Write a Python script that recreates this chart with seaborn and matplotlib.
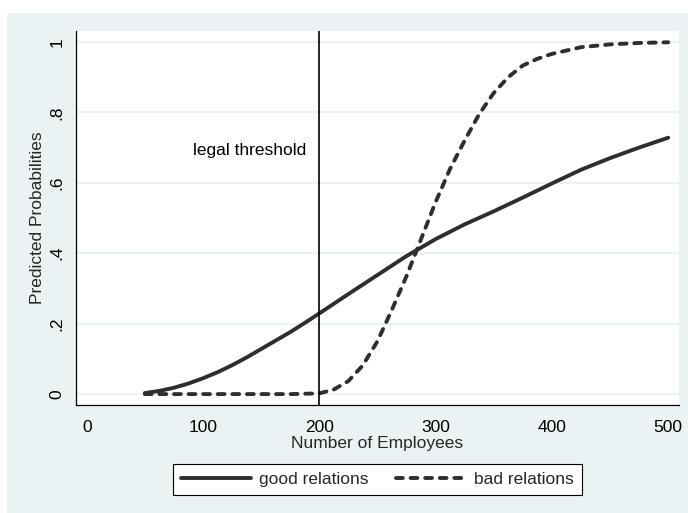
import numpy as np
import pandas as pd
import matplotlib
matplotlib.use("Agg")
import matplotlib.pyplot as plt
from matplotlib.patches import Rectangle
from matplotlib.lines import Line2D
import seaborn as sns

# ---- data ----
good_x = [50, 62.5, 75, 87.5, 100, 112.5, 125, 137.5, 150, 162.5, 175, 187.5, 200, 225, 250, 275, 300, 325,
          350, 375, 400, 425, 450, 475, 500]
good_y = [0.003, 0.009, 0.018, 0.030, 0.045, 0.062, 0.082, 0.104, 0.128, 0.152, 0.176, 0.202, 0.229, 0.284,
          0.338, 0.392, 0.440, 0.482, 0.519, 0.558, 0.598, 0.637, 0.670, 0.700, 0.728]
bad_x = [50, 75, 100, 125, 150, 175, 200, 212.5, 225, 237.5, 250, 262.5, 275, 287.5, 300, 312.5, 325, 337.5,
         350, 362.5, 375, 387.5, 400, 425, 450, 475, 500]
bad_y = [0.0, 0.0, 0.0, 0.0, 0.0, 0.0, 0.002, 0.013, 0.037, 0.082, 0.150, 0.240, 0.335, 0.440, 0.545, 0.640,
         0.720, 0.795, 0.855, 0.900, 0.933, 0.952, 0.966, 0.985, 0.993, 0.997, 0.999]
series_names = ["good relations", "bad relations"]
x_ticks = [0, 100, 200, 300, 400, 500]
y_ticks = [0, 0.2, 0.4, 0.6, 0.8, 1.0]
y_tick_labels = ["0", ".2", ".4", ".6", ".8", "1"]
threshold = 200
threshold_label = "legal threshold"

df = pd.concat([
    pd.DataFrame({"employees": good_x, "prob": good_y, "relations": series_names[0]}),
    pd.DataFrame({"employees": bad_x, "prob": bad_y, "relations": series_names[1]}),
], ignore_index=True)

# ---- style ----
sns.set_style("white")
plt.rcParams["font.family"] = ["Liberation Sans", "DejaVu Sans"]
FS = 12.5
BG = "#EAF2F3"
LINE_C = "#2e2e2e"
LW = 2.8
DASH = (1.75, 2.0)

W, H = 688, 513
fig = plt.figure(figsize=(W / 100, H / 100), dpi=100)
fig.patch.set_facecolor("white")
fig.patches.append(Rectangle((7 / W, 0), 1, (H - 13) / H, transform=fig.transFigure,
                             facecolor=BG, edgecolor="none", zorder=-10))

ax = fig.add_axes([76 / W, 1 - 405 / H, (679 - 76) / W, (405 - 31) / H])
ax.set_facecolor("white")

sns.lineplot(data=df, x="employees", y="prob", style="relations",
             dashes={series_names[0]: "", series_names[1]: DASH},
             color=LINE_C, linewidth=LW, legend=False, ax=ax, sort=True, estimator=None)
for ln in ax.lines:
    ln.set_solid_capstyle("round")
    ln.set_dash_capstyle("round")
    ln.set_solid_joinstyle("round")

ax.axvline(threshold, color="black", lw=1.2, zorder=3)
ax.text(188.6, 0.693, threshold_label, ha="right", va="center", fontsize=FS, color="black")

ax.set_xlim(-9.2, 509.3)
ax.set_ylim(-0.031, 1.031)
ax.set_xticks(x_ticks)
ax.set_xticklabels([str(v) for v in x_ticks], fontsize=FS)
ax.set_yticks(y_ticks)
ax.set_yticklabels(y_tick_labels, fontsize=FS, rotation=90, va="center")
ax.tick_params(axis="both", direction="out", length=5.5, width=0.8, color="black", labelcolor="black")
ax.tick_params(axis="x", pad=5.5)
ax.tick_params(axis="y", pad=3)
ax.grid(axis="y", color=BG, lw=1.5, zorder=0)
ax.grid(axis="x", visible=False)
ax.set_axisbelow(True)
for s in ["top", "right"]:
    ax.spines[s].set_visible(False)
for s in ["left", "bottom"]:
    ax.spines[s].set_color("black")
    ax.spines[s].set_linewidth(0.9)

ax.set_xlabel("Number of Employees", fontsize=FS, labelpad=0.5)
ax.set_ylabel("Predicted Probabilities", fontsize=FS, labelpad=3)

handles = [
    Line2D([], [], color=LINE_C, lw=LW, solid_capstyle="round"),
    Line2D([], [], color=LINE_C, lw=LW, linestyle=(0, DASH), dash_capstyle="round"),
]
leg = fig.legend(handles, series_names, loc="center", ncol=2,
                 bbox_to_anchor=(377.5 / W, 1 - 479.3 / H), fontsize=FS,
                 frameon=True, fancybox=False, edgecolor="black", facecolor="white",
                 framealpha=1, handlelength=4.0, handletextpad=0.5, columnspacing=1.55,
                 borderpad=0.45, borderaxespad=0)
leg.get_frame().set_linewidth(0.8)

fig.savefig("out.png", dpi=100, facecolor=fig.get_facecolor())
